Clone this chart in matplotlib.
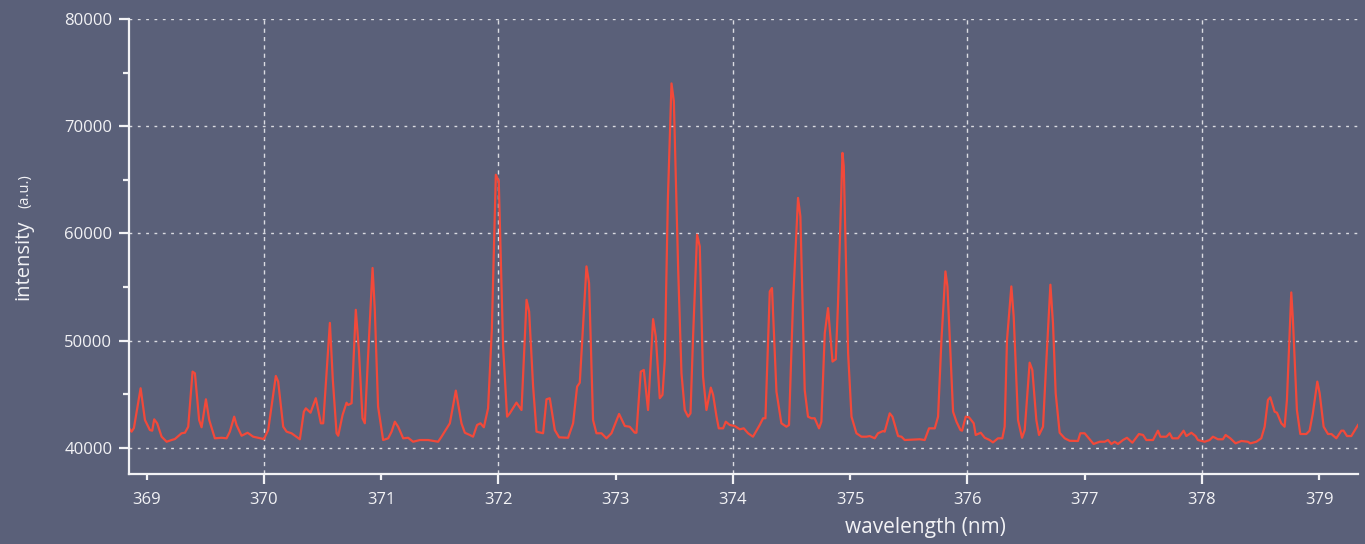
import matplotlib
matplotlib.use("Agg")
import matplotlib.pyplot as plt
from matplotlib.ticker import MultipleLocator, FixedLocator

# ---- data ----
wavelength = [
    368.849, 368.872, 368.892, 368.949, 368.986, 369.028, 369.048, 369.065, 369.090, 369.128,
    369.171, 369.213, 369.241, 369.298, 369.327, 369.355, 369.392, 369.412, 369.448, 369.469,
    369.506, 369.534, 369.582, 369.639, 369.682, 369.710, 369.747, 369.767, 369.810, 369.861,
    369.909, 370.000, 370.037, 370.102, 370.122, 370.165, 370.194, 370.236, 370.307, 370.341,
    370.358, 370.398, 370.443, 370.486, 370.506, 370.531, 370.563, 370.588, 370.620, 370.634,
    370.671, 370.705, 370.719, 370.748, 370.784, 370.810, 370.841, 370.861, 370.887, 370.927,
    370.946, 370.974, 371.017, 371.060, 371.089, 371.117, 371.145, 371.188, 371.230, 371.273,
    371.330, 371.401, 371.486, 371.515, 371.586, 371.637, 371.685, 371.714, 371.756, 371.784,
    371.818, 371.847, 371.876, 371.912, 371.944, 371.978, 372.003, 372.040, 372.074, 372.097,
    372.154, 372.197, 372.240, 372.262, 372.296, 372.325, 372.381, 372.410, 372.438, 372.481,
    372.518, 372.594, 372.637, 372.671, 372.694, 372.751, 372.773, 372.807, 372.836, 372.879,
    372.921, 372.964, 373.029, 373.078, 373.120, 373.163, 373.177, 373.214, 373.240, 373.276,
    373.319, 373.342, 373.376, 373.399, 373.419, 373.445, 373.476, 373.496, 373.533, 373.561,
    373.589, 373.618, 373.638, 373.660, 373.694, 373.717, 373.745, 373.774, 373.811, 373.831,
    373.860, 373.879, 373.916, 373.939, 373.973, 374.015, 374.058, 374.092, 374.129, 374.171,
    374.228, 374.257, 374.277, 374.314, 374.333, 374.371, 374.413, 374.456, 374.478, 374.512,
    374.555, 374.575, 374.612, 374.640, 374.669, 374.697, 374.734, 374.754, 374.783, 374.811,
    374.849, 374.877, 374.896, 374.934, 374.945, 374.982, 375.011, 375.053, 375.096, 375.138,
    375.166, 375.209, 375.237, 375.280, 375.294, 375.337, 375.360, 375.408, 375.437, 375.465,
    375.593, 375.635, 375.672, 375.721, 375.749, 375.778, 375.812, 375.829, 375.877, 375.906,
    375.940, 375.954, 375.985, 376.013, 376.053, 376.070, 376.113, 376.147, 376.189, 376.217,
    376.260, 376.297, 376.317, 376.337, 376.374, 376.394, 376.431, 376.465, 376.488, 376.530,
    376.553, 376.587, 376.610, 376.644, 376.667, 376.707, 376.729, 376.752, 376.786, 376.829,
    376.871, 376.942, 376.962, 376.999, 377.041, 377.075, 377.127, 377.170, 377.198, 377.227,
    377.255, 377.283, 377.326, 377.360, 377.406, 377.462, 377.497, 377.525, 377.582, 377.624,
    377.645, 377.696, 377.724, 377.747, 377.795, 377.843, 377.866, 377.909, 377.945, 377.965,
    378.022, 378.065, 378.093, 378.136, 378.178, 378.201, 378.241, 378.286, 378.335, 378.391,
    378.412, 378.463, 378.505, 378.534, 378.562, 378.582, 378.619, 378.639, 378.676, 378.704,
    378.724, 378.761, 378.775, 378.809, 378.838, 378.889, 378.917, 378.945, 378.983, 379.003,
    379.037, 379.074, 379.103, 379.145, 379.188, 379.207, 379.236, 379.273, 379.330,
]
intensity = [
    41840, 41500, 41840, 45550, 42590, 41650, 41590, 42650, 42280, 41030,
    40560, 40720, 40810, 41350, 41400, 41960, 47100, 46950, 42590, 41910,
    44520, 42590, 40880, 40930, 40880, 41500, 42900, 42120, 41120, 41400,
    41030, 40810, 41650, 46700, 46170, 41960, 41500, 41350, 40790, 43360,
    43680, 43270, 44620, 42280, 42280, 46330, 51650, 46330, 41350, 41120,
    43050, 44200, 43990, 44150, 52870, 49130, 42750, 42280, 48200, 56770,
    52870, 43830, 40720, 40880, 41500, 42430, 41960, 40880, 40930, 40560,
    40720, 40720, 40560, 41030, 42280, 45330, 42280, 41400, 41190, 41030,
    42120, 42280, 41910, 43680, 51000, 65470, 64860, 49440, 42900, 43210,
    44210, 43520, 53800, 52710, 45700, 41500, 41350, 44520, 44620, 41650,
    40970, 40930, 42280, 45700, 46070, 56920, 55360, 42590, 41350, 41350,
    40880, 41350, 43150, 42030, 41960, 41400, 41400, 47100, 47260, 43520,
    52000, 50370, 44620, 44930, 48200, 63150, 73990, 72340, 56610, 46950,
    43520, 42900, 43210, 50370, 59880, 58790, 46640, 43520, 45610, 44930,
    42900, 41810, 41810, 42430, 42120, 42030, 41720, 41810, 41350, 41030,
    42120, 42750, 42750, 54580, 54900, 45230, 42280, 41960, 42120, 53500,
    63310, 61590, 45390, 42900, 42750, 42750, 41810, 42430, 50690, 53030,
    48040, 48260, 53500, 67510, 66260, 48820, 42900, 41350, 41030, 41030,
    41090, 40880, 41350, 41560, 41500, 43210, 42900, 41090, 41030, 40720,
    40790, 40720, 41810, 41810, 42900, 50070, 56450, 55050, 43360, 42430,
    41650, 41590, 42900, 42840, 42280, 41190, 41400, 40930, 40720, 40500,
    40880, 40880, 41960, 50070, 55050, 52240, 42590, 40930, 41650, 47940,
    47260, 42590, 41190, 41960, 46950, 55210, 51630, 45080, 41400, 40880,
    40650, 40630, 41350, 41350, 40790, 40350, 40560, 40560, 40720, 40350,
    40560, 40350, 40720, 40930, 40470, 41280, 41190, 40720, 40720, 41590,
    41030, 41030, 41350, 40880, 40880, 41590, 41090, 41400, 41090, 40720,
    40560, 40720, 41030, 40790, 40790, 41190, 40880, 40410, 40630, 40560,
    40410, 40560, 40880, 41960, 44460, 44710, 43360, 43270, 42280, 41960,
    44460, 54490, 51930, 43520, 41280, 41280, 41590, 43210, 46170, 45080,
    41960, 41280, 41280, 40880, 41590, 41590, 41090, 41090, 42120,
]
x_major = [370, 372, 374, 376, 378]
x_minor = [369, 371, 373, 375, 377, 379]
y_ticks = [40000, 50000, 60000, 70000, 80000]

BG = "#5a6079"
LINE = "#f2493a"
FG = "#f2f2f5"
FONT = "Open Sans"

plt.rcParams['font.family'] = [FONT, 'DejaVu Sans']

fig = plt.figure(figsize=(13.65, 5.44), dpi=100, facecolor=BG)
ax = fig.add_axes([129/1365, 1 - 474/544, (1358-129)/1365, (474-19)/544])
ax.set_facecolor(BG)

ax.plot(wavelength, intensity, color=LINE, lw=1.6, solid_joinstyle='round')

ax.set_xlim(368.85, 379.33)
ax.set_ylim(37550, 80000)

for s in ['top', 'right']:
    ax.spines[s].set_visible(False)
for s in ['left', 'bottom']:
    ax.spines[s].set_color(FG)
    ax.spines[s].set_linewidth(1.6)

ax.xaxis.set_major_locator(FixedLocator(x_major))
ax.xaxis.set_minor_locator(FixedLocator(x_minor))
ax.set_xticklabels([str(v) for v in x_major])
ax.set_xticklabels([str(v) for v in x_minor], minor=True)
ax.yaxis.set_major_locator(FixedLocator(y_ticks))
ax.yaxis.set_minor_locator(MultipleLocator(5000))
ax.set_yticklabels([str(v) for v in y_ticks])

ax.tick_params(axis='both', which='both', colors=FG, labelcolor=FG, labelsize=12, width=1.6)
ax.tick_params(axis='x', which='major', length=7, pad=6)
ax.tick_params(axis='x', which='minor', length=4, pad=9)
ax.tick_params(axis='y', which='major', length=7, pad=5)
ax.tick_params(axis='y', which='minor', length=4)

ax.grid(False)
ax.xaxis.grid(True, which='major', color=FG, alpha=0.85, lw=1.0, linestyle=(0, (3, 3)))
ax.yaxis.grid(True, which='major', color=FG, alpha=0.85, lw=1.0, linestyle=(0, (2, 4)))
ax.set_axisbelow(True)

fig.text(925/1365, 1 - 528/544, "wavelength (nm)", color=FG, fontsize=15,
         ha='center', va='center')
fig.text(28/1365, 1 - 300/544, "intensity", color=FG, fontsize=14.5,
         rotation=90, rotation_mode='anchor', ha='left', va='baseline')
fig.text(28/1365, 1 - 208/544, "(a.u.)", color=FG, fontsize=10.5,
         rotation=90, rotation_mode='anchor', ha='left', va='baseline')

fig.savefig("out.png", dpi=100, facecolor=BG)
